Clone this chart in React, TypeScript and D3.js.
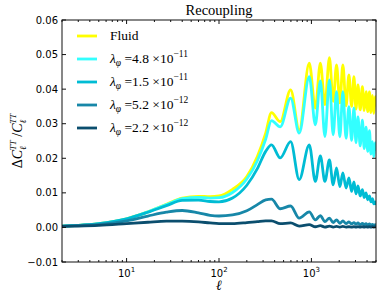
import React, { useEffect, useRef } from 'react';
import * as d3 from 'd3';

// multipole knots (peaks / troughs of the oscillations at high l)
const ell = [2, 3, 5, 10, 17, 27, 40, 60, 80, 100, 140, 200, 260, 320,
	370, 460, 596, 738, 948, 1103, 1250, 1400, 1566, 1720, 1870, 2031, 2190, 2372, 2546, 2724,
	2886, 3034, 3190, 3372, 3563, 3727, 3900, 4070, 4247, 4410, 4580, 4730, 4910, 5000];

const fluid = [0.0004, 0.0006, 0.0011, 0.0025, 0.0045, 0.0067, 0.0085, 0.0090, 0.0089, 0.0091, 0.0110, 0.0147, 0.0205, 0.0273,
	0.0332, 0.0306, 0.0398, 0.0282, 0.0475, 0.0345, 0.0475, 0.0355, 0.0491, 0.0365, 0.0470, 0.0360, 0.0470, 0.0352, 0.0441, 0.0350,
	0.0436, 0.0342, 0.0412, 0.0340, 0.0407, 0.0338, 0.0393, 0.0335, 0.0392, 0.0332, 0.0382, 0.0330, 0.0378, 0.0350];

const lam48 = [0.0004, 0.0006, 0.0011, 0.0025, 0.0045, 0.0066, 0.0083, 0.0087, 0.0085, 0.0086, 0.0101, 0.0140, 0.0193, 0.0255,
	0.0309, 0.0291, 0.0374, 0.0273, 0.0436, 0.0297, 0.0424, 0.0263, 0.0427, 0.0268, 0.0393, 0.0262, 0.0393, 0.0258, 0.0349, 0.0252,
	0.0346, 0.0245, 0.0320, 0.0236, 0.0310, 0.0228, 0.0290, 0.0220, 0.0280, 0.0212, 0.0248, 0.0205, 0.0245, 0.0220];

const lam15 = [0.0004, 0.0006, 0.0011, 0.0025, 0.0044, 0.0063, 0.0078, 0.0079, 0.0075, 0.0074, 0.0085, 0.0122, 0.0170, 0.0220,
	0.0239, 0.0201, 0.0248, 0.0138, 0.0239, 0.0133, 0.0207, 0.0133, 0.0195, 0.0123, 0.0172, 0.0118, 0.0158, 0.0114, 0.0143, 0.0104,
	0.0132, 0.0097, 0.0120, 0.0091, 0.0109, 0.0086, 0.0100, 0.0080, 0.0091, 0.0074, 0.0083, 0.0068, 0.0074, 0.0065];

const lam52 = [0.0004, 0.0006, 0.0009, 0.0019, 0.0033, 0.0044, 0.0049, 0.0042, 0.0035, 0.0033, 0.0036, 0.0048, 0.0066, 0.0080,
	0.0082, 0.0054, 0.0062, 0.0027, 0.0045, 0.0022, 0.0034, 0.0017, 0.0027, 0.0014, 0.0022, 0.0012, 0.0019, 0.0011, 0.0016, 0.0010,
	0.0014, 0.0009, 0.0013, 0.0008, 0.0012, 0.0008, 0.0011, 0.0007, 0.0010, 0.0007, 0.0009, 0.0006, 0.0008, 0.0007];

const lam22 = [0.0003, 0.0004, 0.0006, 0.0011, 0.0015, 0.0018, 0.0018, 0.0016, 0.0013, 0.0011, 0.0011, 0.0014, 0.0017, 0.0019,
	0.0019, 0.0011, 0.0013, 0.0004, 0.0008, 0.0002, 0.0005, 0.0001, 0.0004, 0.0001, 0.0003, 0.0001, 0.0003, 0.0001, 0.0002, 0.0001,
	0.0002, 0.0001, 0.0002, 0.0001, 0.0002, 0.0001, 0.0002, 0.0001, 0.0002, 0.0001, 0.0002, 0.0001, 0.0002, 0.0002];

const seriesNames = ['Fluid', '4.8', '1.5', '5.2', '2.2'];
const seriesExp = ['', '−11', '−11', '−12', '−12'];
const seriesColors = ['#ffff00', '#33ffff', '#00bcd4', '#1787a8', '#0b4e6e'];
const seriesValues = [fluid, lam48, lam15, lam52, lam22];

const yTicks = [-0.01, 0, 0.01, 0.02, 0.03, 0.04, 0.05, 0.06];
const xTicks = [10, 100, 1000];
const xTickExp = ['1', '2', '3'];

const W = 381, H = 302;
const margin = { top: 20, right: 5, bottom: 40, left: 62 };

function draw(el: SVGSVGElement) {
	const svg = d3.select(el);
	svg.selectAll('*').remove();

	const x = d3.scaleLog().domain([2, 5000]).range([margin.left, W - margin.right]);
	const y = d3.scaleLinear().domain([-0.01, 0.06]).range([H - margin.bottom, margin.top]);
	const x0 = margin.left, x1 = W - margin.right, y0 = H - margin.bottom, y1 = margin.top;

	svg.append('clipPath').attr('id', 'plotclip')
		.append('rect').attr('x', x0).attr('y', y1).attr('width', x1 - x0).attr('height', y0 - y1);

	// lines
	const line = d3.line<number>()
		.x((d, i) => x(ell[i]))
		.y(d => y(d))
		.curve(d3.curveMonotoneX);

	const g = svg.append('g').attr('clip-path', 'url(#plotclip)');
	seriesValues.forEach((vals, k) => {
		g.append('path')
			.attr('d', line(vals))
			.attr('fill', 'none')
			.attr('stroke', seriesColors[k])
			.attr('stroke-width', 2.8)
			.attr('stroke-linejoin', 'round');
	});

	// frame
	svg.append('rect').attr('x', x0).attr('y', y1).attr('width', x1 - x0).attr('height', y0 - y1)
		.attr('fill', 'none').attr('stroke', '#111').attr('stroke-width', 1);

	// y ticks (inward, both sides)
	yTicks.forEach(t => {
		const yy = y(t);
		svg.append('line').attr('x1', x0).attr('x2', x0 + 4).attr('y1', yy).attr('y2', yy).attr('stroke', '#111');
		svg.append('line').attr('x1', x1).attr('x2', x1 - 4).attr('y1', yy).attr('y2', yy).attr('stroke', '#111');
		svg.append('text').attr('x', x0 - 4).attr('y', yy).attr('dy', '0.35em')
			.attr('text-anchor', 'end').attr('font-family', 'DejaVu Sans').attr('font-size', 10)
			.text(t === 0 ? '0.00' : (t < 0 ? '−' : '') + Math.abs(t).toFixed(2));
	});

	// x minor + major ticks
	const minor: number[] = [];
	[1, 10, 100, 1000].forEach(dec => {
		for (let m = 2; m <= 9; m++) {
			const v = m * dec;
			if (v >= 2 && v <= 5000) minor.push(v);
		}
	});
	minor.forEach(v => {
		const xx = x(v);
		svg.append('line').attr('x1', xx).attr('x2', xx).attr('y1', y0).attr('y2', y0 - 2).attr('stroke', '#111');
		svg.append('line').attr('x1', xx).attr('x2', xx).attr('y1', y1).attr('y2', y1 + 2).attr('stroke', '#111');
	});
	xTicks.forEach((v, i) => {
		const xx = x(v);
		svg.append('line').attr('x1', xx).attr('x2', xx).attr('y1', y0).attr('y2', y0 - 4).attr('stroke', '#111');
		svg.append('line').attr('x1', xx).attr('x2', xx).attr('y1', y1).attr('y2', y1 + 4).attr('stroke', '#111');
		const t = svg.append('text').attr('x', xx).attr('y', y0 + 15)
			.attr('text-anchor', 'middle').attr('font-family', 'DejaVu Sans').attr('font-size', 10);
		t.append('tspan').text('10');
		t.append('tspan').attr('dy', -5).attr('font-size', 7).text(xTickExp[i]);
	});

	// title
	svg.append('text').attr('x', (x0 + x1) / 2).attr('y', 15).attr('text-anchor', 'middle')
		.attr('font-family', 'Liberation Serif').attr('font-size', 14.5).text('Recoupling');

	// x label
	svg.append('text').attr('x', (x0 + x1) / 2).attr('y', 290).attr('text-anchor', 'middle')
		.attr('font-family', 'Liberation Serif').attr('font-style', 'italic').attr('font-size', 14).text('ℓ');

	// y label
	const yl = svg.append('text').attr('transform', `translate(22, ${(y0 + y1) / 2}) rotate(-90)`)
		.attr('text-anchor', 'middle').attr('font-family', 'Liberation Serif').attr('font-size', 14);
	yl.append('tspan').text('Δ');
	yl.append('tspan').attr('font-style', 'italic').text('C');
	yl.append('tspan').attr('font-style', 'italic').attr('font-size', 9).attr('dy', 4).text('ℓ');
	yl.append('tspan').attr('font-style', 'italic').attr('font-size', 9).attr('dx', -4).attr('dy', -10).text('TT');
	yl.append('tspan').attr('dy', 6).text(' /');
	yl.append('tspan').attr('font-style', 'italic').text('C');
	yl.append('tspan').attr('font-style', 'italic').attr('font-size', 9).attr('dy', 4).text('ℓ');
	yl.append('tspan').attr('font-style', 'italic').attr('font-size', 9).attr('dx', -4).attr('dy', -10).text('TT');

	// legend
	const lg = svg.append('g');
	seriesNames.forEach((name, k) => {
		const yy = 36 + k * 23;
		lg.append('line').attr('x1', 77).attr('x2', 97).attr('y1', yy).attr('y2', yy)
			.attr('stroke', seriesColors[k]).attr('stroke-width', 2.8);
		const t = lg.append('text').attr('x', 110).attr('y', yy + 4)
			.attr('font-family', 'Liberation Serif').attr('font-size', 13.5);
		if (k === 0) {
			t.text(name);
		} else {
			t.append('tspan').attr('font-style', 'italic').text('λ');
			t.append('tspan').attr('font-style', 'italic').attr('font-size', 9.5).attr('dy', 3).text('φ');
			t.append('tspan').attr('dy', -3).text(' =' + name + ' ×10');
			t.append('tspan').attr('font-size', 9.5).attr('dy', -6).text(seriesExp[k]);
		}
	});
}

export default function App() {
	const ref = useRef<SVGSVGElement>(null);
	useEffect(() => {
		if (ref.current) draw(ref.current);
	}, []);
	return (
		<svg ref={ref} width={W} height={H}
			style={{ position: 'absolute', left: 0, top: 0, background: '#fff' }} />
	);
}
